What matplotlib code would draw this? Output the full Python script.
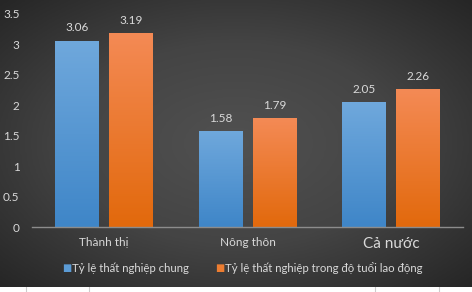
import numpy as np
import matplotlib.pyplot as plt
from matplotlib.colors import LinearSegmentedColormap

categories = ["Thành thị", "Nông thôn", "Cả nước"]
chung = [3.06, 1.58, 2.05]
lao_dong = [3.19, 1.79, 2.26]
series_names = ["Tỷ lệ thất nghiệp chung", "Tỷ lệ thất nghiệp trong độ tuổi lao động"]
yticks = [0, 0.5, 1, 1.5, 2, 2.5, 3, 3.5]

plt.rcParams['font.family'] = ['Lato', 'DejaVu Sans']
txt = '#d9d9d9'

W, H = 472, 292
fig = plt.figure(figsize=(W / 100, H / 100), dpi=100)
fig.patch.set_facecolor('white')

# dark radial background (chart area stops a few px above the bottom)
bg = fig.add_axes([0, 5 / H, 1, 1 - 5 / H])
yy, xx = np.mgrid[-1:1:200j, -1:1:300j]
r = np.sqrt(xx ** 2 + yy ** 2) / np.sqrt(2)
bg.imshow(r, cmap=LinearSegmentedColormap.from_list('bg', ['#515151', '#444444', '#262626']),
          aspect='auto', extent=[0, 1, 0, 1], vmin=0, vmax=1)
bg.set_axis_off()

# faint table lines in the white strip
strip = fig.add_axes([0, 0, 1, 5 / H])
strip.set_xlim(0, W)
strip.set_ylim(0, 1)
for xv in [26, 89, 375, 439]:
    strip.axvline(xv, color='#cccccc', lw=0.8)
strip.set_axis_off()

ax = fig.add_axes([32 / W, 65 / H, 431 / W, 213 / H])
ax.set_facecolor('none')
x = np.arange(len(categories))
w = 0.306
off = 0.188

blue = LinearSegmentedColormap.from_list('b', ['#3f86c8', '#6fa8dc'])
orange = LinearSegmentedColormap.from_list('o', ['#e2690c', '#f48a55'])
grad = np.linspace(0, 1, 100).reshape(-1, 1)

for vals, dx, cm in [(chung, -off, blue), (lao_dong, off, orange)]:
    bars = ax.bar(x + dx, vals, w, color='none', edgecolor='none', zorder=2)
    for b, v in zip(bars, vals):
        im = ax.imshow(grad, cmap=cm, aspect='auto', origin='lower', zorder=2,
                       extent=[b.get_x(), b.get_x() + w, 0, v])
        im.set_clip_path(b)
        ax.text(b.get_x() + w / 2, v + 0.12, f"{v:.2f}", ha='center', va='bottom',
                color=txt, fontsize=8.5)

ax.set_xlim(-0.5, 2.5)
ax.set_ylim(0, 3.5)
ax.set_yticks(yticks)
ax.set_yticklabels([f"{t:g}" for t in yticks], color=txt, fontsize=8.5)
ax.tick_params(axis='y', length=0, pad=9)
ax.set_xticks(x)
ax.set_xticklabels(categories, color=txt, fontsize=8.5)
ax.get_xticklabels()[2].set_fontsize(11)
ax.tick_params(axis='x', length=0, pad=7)
for s in ['top', 'right', 'left']:
    ax.spines[s].set_visible(False)
ax.spines['bottom'].set_color('#8c8c8c')
ax.spines['bottom'].set_linewidth(1)

# legend
fig.text(62 / W, 1 - 268 / H, '■', color='#5b9bd5', fontsize=7, va='center')
fig.text(72 / W, 1 - 268 / H, series_names[0], color=txt, fontsize=8.2, va='center')
fig.text(215 / W, 1 - 268 / H, '■', color='#ed7d31', fontsize=7, va='center')
fig.text(225 / W, 1 - 268 / H, series_names[1], color=txt, fontsize=8.2, va='center')

fig.savefig('out.png', dpi=100)
